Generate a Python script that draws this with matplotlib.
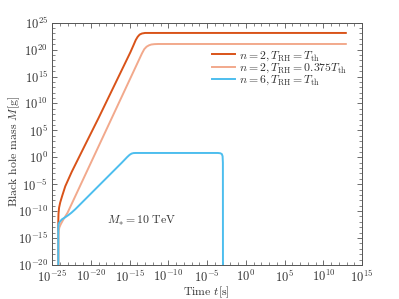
import numpy as np
import matplotlib
matplotlib.use('Agg')
import matplotlib.pyplot as plt
from matplotlib import ticker

plt.rcParams['font.family'] = 'serif'
plt.rcParams['font.serif'] = ['cmr10', 'DejaVu Serif']
plt.rcParams['mathtext.fontset'] = 'cm'
plt.rcParams['axes.unicode_minus'] = False

# log10 of time [s] and mass [g]
red_logt = [-24.2, -24.2, -24.17, -24.1, -23.95, -23.7, -23.3, -22.46, -20.7, -19.0,
            -14.9, -14.5, -14.2, -13.95, -13.7, -13.4, -13.0, 12.9]
red_logm = [-21.0, -12.0, -10.5, -9.4, -8.4, -7.2, -5.4, -2.7, 2.4, 7.3,
            19.5, 20.8, 21.8, 22.4, 22.8, 23.0, 23.1, 23.1]

sal_logt = [-24.2, -24.2, -24.15, -24.05, -23.9, -23.6, -23.0, -13.4, -13.1,
            -12.8, -12.5, -12.2, -11.8, -11.3, 12.9]
sal_logm = [-21.0, -14.5, -13.6, -13.0, -12.5, -11.7, -10.3, 19.3, 20.1,
            20.55, 20.8, 20.95, 21.02, 21.05, 21.05]

blu_logt = [-24.2, -24.2, -24.17, -24.1, -24.0, -23.9, -23.7, -23.3, -22.9, -22.5,
            -22.0, -19.4, -16.0, -15.3, -15.0, -14.75, -14.5, -14.2,
            -3.6, -3.3, -3.1, -3.0, -2.96, -2.95]
blu_logm = [-21.0, -13.0, -12.5, -12.2, -12.0, -11.8, -11.5, -11.15, -10.75, -10.3,
            -9.65, -5.9, -1.0, 0.05, 0.45, 0.68, 0.78, 0.8,
            0.8, 0.75, 0.6, 0.2, -1.0, -21.0]

labels = [r'$n=2, T_{\rm RH}=T_{\rm th}$',
          r'$n=2, T_{\rm RH}=0.375T_{\rm th}$',
          r'$n=6, T_{\rm RH}=T_{\rm th}$']
colors = ['#D95319', '#F2A98C', '#4DBEEE']

fig = plt.figure(figsize=(3.99, 2.99), dpi=100)
ax = fig.add_axes([0.1305, 0.114, 0.777, 0.81])

for lt, lm, lab, c in zip([red_logt, sal_logt, blu_logt],
                          [red_logm, sal_logm, blu_logm], labels, colors):
    ax.plot(10.0 ** np.array(lt), 10.0 ** np.array(lm), color=c, lw=1.4, label=lab)

ax.set_xscale('log')
ax.set_yscale('log')
ax.set_xlim(1e-25, 1e15)
ax.set_ylim(1e-20, 1e25)

fmt = ticker.FuncFormatter(lambda v, _: r'$10^{%d}$' % round(np.log10(v)))
for axis, lo, hi in [(ax.xaxis, -25, 15), (ax.yaxis, -20, 25)]:
    axis.set_major_locator(ticker.FixedLocator(10.0 ** np.arange(lo, hi + 1, 5)))
    axis.set_minor_locator(ticker.FixedLocator(10.0 ** np.arange(lo, hi + 1)))
    axis.set_major_formatter(fmt)
    axis.set_minor_formatter(ticker.NullFormatter())

ax.tick_params(which='both', direction='in', top=True, right=True,
               colors='#555555', labelcolor='#333333', labelsize=9)
ax.tick_params(which='major', length=3.5, width=0.6, pad=3)
ax.tick_params(which='minor', length=2, width=0.5)
for s in ax.spines.values():
    s.set_color('#555555')
    s.set_linewidth(0.7)

ax.set_xlabel(r'Time $t[{\rm s}]$', fontsize=8.5, color='#333333')
ax.set_ylabel(r'Black hole mass $M[{\rm g}]$', fontsize=8.5, color='#333333')
ax.xaxis.set_label_coords(0.498, -0.083)
ax.yaxis.set_label_coords(-0.097, 0.47)

ax.text(0.177, 0.18, r'$M_{\ast}=10\ {\rm TeV}$', transform=ax.transAxes,
        fontsize=8.5, color='#333333', va='center')

leg = ax.legend(loc='upper left', bbox_to_anchor=(0.515, 0.89), frameon=False,
                fontsize=8.5, handlelength=2.0, handletextpad=0.3,
                labelspacing=-0.1, borderpad=0, borderaxespad=0)
for t in leg.get_texts():
    t.set_color('#333333')

fig.savefig('out.png', dpi=100)
